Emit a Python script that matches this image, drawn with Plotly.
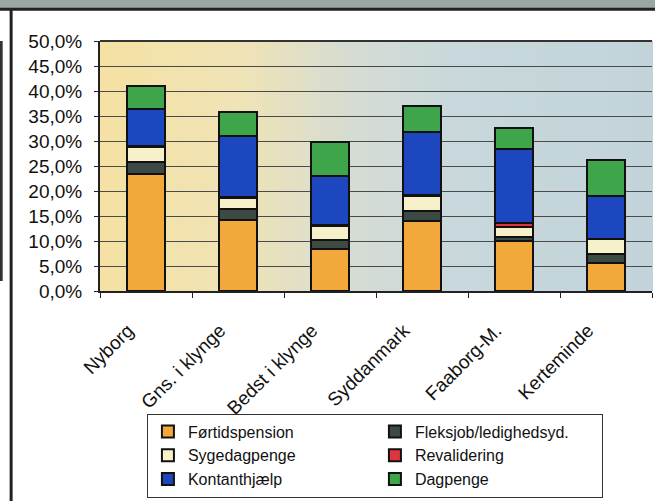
import plotly.graph_objects as go

kategorier = ["Nyborg", "Gns. i klynge", "Bedst i klynge", "Syddanmark", "Faaborg-M.", "Kerteminde"]

fortidspension = [23.5, 14.3, 8.5, 14.1, 10.0, 5.7]
fleksjob = [2.3, 2.1, 1.7, 2.0, 0.9, 1.8]
sygedagpenge = [3.0, 2.2, 2.9, 3.0, 1.9, 2.9]
revalidering = [0.2, 0.2, 0.2, 0.2, 0.9, 0.1]
kontanthjaelp = [7.5, 12.3, 9.8, 12.5, 14.8, 8.6]
dagpenge = [4.6, 4.8, 6.8, 5.3, 4.1, 7.2]

serier = [
    ("Førtidspension", fortidspension, "#F2A83A"),
    ("Fleksjob/ledighedsyd.", fleksjob, "#3D4A44"),
    ("Sygedagpenge", sygedagpenge, "#F6F1C9"),
    ("Revalidering", revalidering, "#E0353E"),
    ("Kontanthjælp", kontanthjaelp, "#1D47BE"),
    ("Dagpenge", dagpenge, "#3FA54B"),
]

fig = go.Figure()
for navn, vaerdier, farve in serier:
    fig.add_trace(go.Bar(
        x=kategorier, y=vaerdier, name=navn,
        marker=dict(color=farve, line=dict(color="#111111", width=2)),
    ))


def bland(a, b, t):
    a = [int(a[i:i + 2], 16) for i in (1, 3, 5)]
    b = [int(b[i:i + 2], 16) for i in (1, 3, 5)]
    return "rgb(%d,%d,%d)" % tuple(round(a[k] + (b[k] - a[k]) * t) for k in range(3))


# baggrund med farveovergang
stop = [(0.0, "#F4E1A2"), (0.25, "#F0E3B6"), (0.45, "#D6DCD2"), (0.65, "#C8D8DC"), (1.0, "#C2D4DA")]
n = 60
for i in range(n):
    p = (i + 0.5) / n
    for (p0, c0), (p1, c1) in zip(stop, stop[1:]):
        if p0 <= p <= p1:
            farve = bland(c0, c1, (p - p0) / (p1 - p0))
            break
    fig.add_shape(type="rect", xref="paper", yref="paper", x0=i / n, x1=(i + 1) / n + 0.002,
                  y0=0, y1=1, fillcolor=farve, line_width=0, layer="below")

# ramme / overskrift
fig.add_shape(type="rect", xref="paper", yref="paper", x0=-0.19, x1=1.01, y0=1.127, y1=1.17,
              fillcolor="#9AA8A4", line_width=0)
fig.add_shape(type="line", xref="paper", yref="paper", x0=-0.19, x1=1.01, y0=1.127, y1=1.127,
              line=dict(color="#222222", width=3))
fig.add_shape(type="line", xref="paper", yref="paper", x0=-0.161, x1=-0.161, y0=1.127, y1=-0.85,
              line=dict(color="#222222", width=3))
fig.add_shape(type="line", xref="paper", yref="paper", x0=-0.179, x1=-0.179, y0=1.0, y1=0.04,
              line=dict(color="#333333", width=3))
fig.add_shape(type="line", xref="paper", yref="paper", x0=0, x1=1, y0=1, y1=1,
              line=dict(color="#333333", width=2))

fig.update_layout(
    template="none",
    barmode="stack",
    bargap=0.58,
    width=655, height=501,
    margin=dict(l=100, r=3, t=41, b=207),
    paper_bgcolor="white",
    plot_bgcolor="rgba(0,0,0,0)",
    font=dict(family="Liberation Sans, Arial", size=19, color="#111111"),
    separators=",.",
    showlegend=True,
    legend=dict(
        orientation="h", x=0.085, y=-0.49, xanchor="left", yanchor="top",
        entrywidth=182, traceorder="normal",
        bordercolor="#333333", borderwidth=1, bgcolor="white",
        font=dict(size=16), itemwidth=30,
        tracegroupgap=0,
    ),
    yaxis=dict(
        range=[0, 50], dtick=5, tickformat=".1f", ticksuffix="%",
        showgrid=True, gridcolor="#4A4A4A", gridwidth=1,
        showline=True, linecolor="#222222", linewidth=2,
        ticks="outside", ticklen=4, tickcolor="#222222",
        zeroline=False, automargin=False, ticklabelstandoff=8,
    ),
    xaxis=dict(
        tickangle=-45, tickson="boundaries", ticks="outside", ticklen=5, tickcolor="#222222",
        showline=True, linecolor="#222222", linewidth=2, showgrid=False,
        range=[-0.5, 5.5], automargin=False, ticklabelstandoff=19, ticklabelshift=-18,
    ),
)

fig.write_html("out.html", config={"displayModeBar": False},
               post_script="document.body.style.margin='0';")
